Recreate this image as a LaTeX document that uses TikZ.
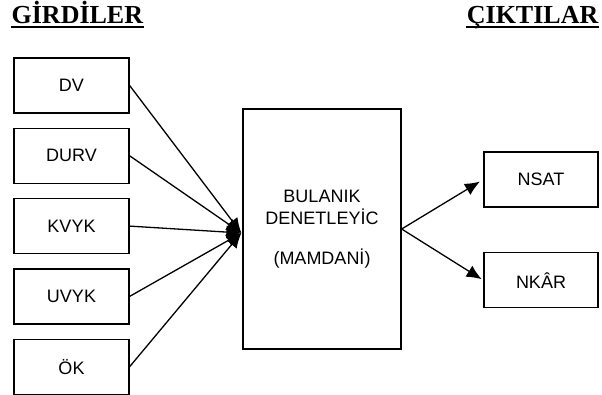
\documentclass[tikz,border=0pt]{standalone}
\usepackage{fontspec}
\setmainfont{Liberation Serif}
\setsansfont{Liberation Sans}
\usetikzlibrary{positioning, arrows.meta}
\tikzset{
  box/.style={draw, rectangle, minimum width=115pt, minimum height=55pt,
    font=\sffamily\fontsize{18}{22}\selectfont},
  heading/.style={font=\bfseries\fontsize{26}{30}\selectfont, inner sep=0pt},
  >={Latex[length=15pt,width=13pt]}, node distance=14pt
}

\begin{document}
\begin{tikzpicture}[x=1pt,y=1pt, line width=1.3pt]
    \useasboundingbox (0,0) rectangle (602,394);

    % headings
    \node[heading, anchor=base west] (gir) at (11,370) {GİRDİLER};
    \node[heading, anchor=base east] (cik) at (599,370) {ÇIKTILAR};
    \draw[line width=2pt] ([yshift=-3.5pt]gir.base west) -- ([yshift=-3.5pt]gir.base east);
    \draw[line width=2pt] ([yshift=-3.5pt]cik.base west) -- ([yshift=-3.5pt]cik.base east);

    % inputs
    \node[box] (dv) at (71.5,308.5) {DV};
    \node[box, below = of dv] (durv) {DURV};
    \node[box, below = of durv] (kvyk) {KVYK};
    \node[box, below = of kvyk] (uvyk) {UVYK};
    \node[box, below = of uvyk] (ok) {ÖK};

    % controller
    \node[box, minimum width=158pt, minimum height=240pt, align=center] (ctrl) at (322,165)
        {BULANIK\\DENETLEYİC\\[18pt](MAMDANİ)};

    % outputs
    \node[box, minimum width=114pt] (nsat) at (541,214.5) {NSAT};
    \node[box, minimum width=114pt, below = 44.5pt of nsat] (nkar) {NKÂR};

    \coordinate (conv) at ([xshift=-1pt,yshift=-4pt]ctrl.west);
    \foreach \n in {dv,durv,kvyk,uvyk,ok}
        \draw[->] (\n.east) -- (conv);

    \draw[->, shorten >=4pt] (ctrl.east) -- (nsat.west);
    \draw[->, shorten >=2pt] (ctrl.east) -- (nkar.west);
\end{tikzpicture}
\end{document}
